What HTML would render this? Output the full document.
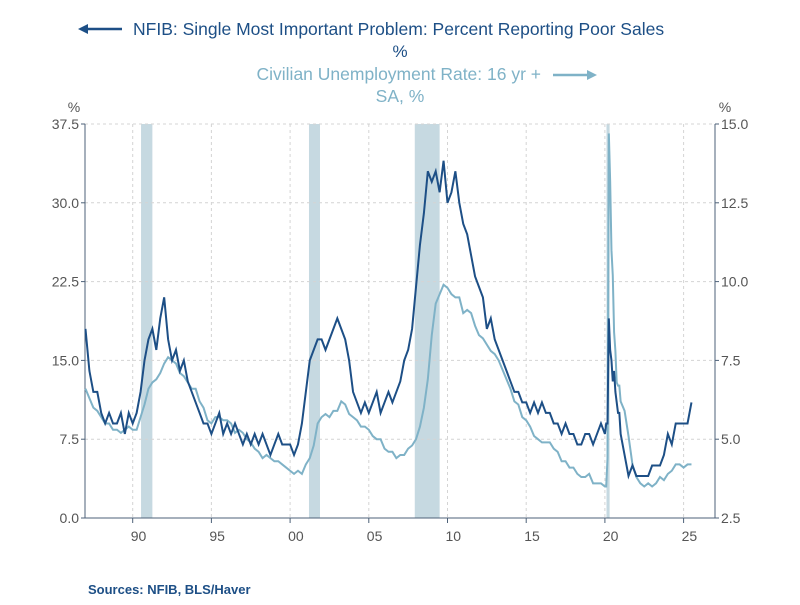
<!DOCTYPE html>
<html><head><meta charset="utf-8"><style>
body{margin:0;background:#fff;font-family:"Liberation Sans",sans-serif}
svg text{font-family:"Liberation Sans",sans-serif}
</style></head><body>
<svg id="chart" width="800" height="600" xmlns="http://www.w3.org/2000/svg">
<g id="legend">
 <line x1="84" y1="29" x2="122" y2="29" stroke="#1d4f86" stroke-width="2.5"/>
 <polygon points="78,29 88,24 88,34" fill="#1d4f86"/>
 <text x="133" y="35" font-size="17.5" fill="#1d4f86">NFIB: Single Most Important Problem: Percent Reporting Poor Sales</text>
 <text x="400" y="57" font-size="17" fill="#1d4f86" text-anchor="middle">%</text>
 <text x="541" y="80" font-size="17.5" fill="#7fb2c7" text-anchor="end">Civilian Unemployment Rate: 16 yr +</text>
 <line x1="553" y1="75" x2="590" y2="75" stroke="#7fb2c7" stroke-width="2.5"/>
 <polygon points="597,75 587,70 587,80" fill="#7fb2c7"/>
 <text x="400" y="102" font-size="17.5" fill="#7fb2c7" text-anchor="middle">SA, %</text>
</g>
<text x="74" y="112" font-size="14" fill="#555" text-anchor="middle">%</text>
<text x="725" y="112" font-size="14" fill="#555" text-anchor="middle">%</text>
<g id="rec"></g><g id="grid"></g><g id="axes"></g><g id="lines"></g>
<text x="88" y="594" font-size="13" font-weight="bold" fill="#1d4f86">Sources:  NFIB, BLS/Haver</text>
</svg>
<script>
const recessionStarts=[1990.53,2001.2,2007.92,2020.1];
const recessionEnds=[1991.25,2001.9,2009.5,2020.3];
const leftTicks=[0,7.5,15,22.5,30,37.5];
const leftTickLabels=["0.0","7.5","15.0","22.5","30.0","37.5"];
const rightTicks=[2.5,5,7.5,10,12.5,15];
const rightTickLabels=["2.5","5.0","7.5","10.0","12.5","15.0"];
const yearTicks=[1990,1995,2000,2005,2010,2015,2020,2025];
const yearTickLabels=["90","95","00","05","10","15","20","25"];
// quarterly 1987-2019, monthly 2020, quarterly 2021+
const nfibValues=[18,14,12,12, 10,9,10,9, 9,10,8,10, 9,10,12,15, 17,18,16,19, 21,17,15,16, 14,15,13,12, 11,10,9,9, 8,9,10,8, 9,8,9,8, 7,8,7,8, 7,8,7,6, 7,8,7,7, 7,6,7,9, 12,15,16,17, 17,16,17,18, 19,18,17,15, 12,11,10,11, 10,11,12,10, 11,12,11,12, 13,15,16,18, 22,26,29,33, 32,33,31,34, 30,31,33,30, 28,27,25,23, 22,21,18,19, 17,16,15,14, 13,12,12,11, 11,10,11,10, 11,10,10,9, 9,8,9,8, 8,7,7,8, 8,7,8,9,
 8,9,9,19,16,15,13,14,12,11,10,10,
 8,6,4,5, 4,4,4,4, 5,5,5,6, 8,7,9,9, 9,9,11];
const unrateValues=[6.6,6.3,6.0,5.9, 5.7,5.5,5.5,5.3, 5.3,5.2,5.3,5.4, 5.3,5.3,5.7,6.1, 6.6,6.8,6.9,7.1, 7.4,7.6,7.5,7.4, 7.1,7.0,6.8,6.6, 6.6,6.2,6.0,5.6, 5.5,5.7,5.7,5.6, 5.6,5.5,5.2,5.3, 5.2,5.0,4.9,4.7, 4.6,4.4,4.5,4.4, 4.3,4.3,4.2,4.1, 4.0,3.9,4.0,3.9, 4.2,4.4,4.8,5.5, 5.7,5.8,5.7,5.9, 5.9,6.2,6.1,5.8, 5.7,5.6,5.4,5.4, 5.3,5.1,5.0,5.0, 4.7,4.6,4.6,4.4, 4.5,4.5,4.7,4.8, 5.0,5.4,6.0,6.9, 8.3,9.3,9.6,9.9, 9.8,9.6,9.5,9.5, 9.0,9.1,9.0,8.6, 8.3,8.2,8.0,7.8, 7.7,7.5,7.2,6.9, 6.6,6.2,6.1,5.7, 5.6,5.4,5.1,5.0, 4.9,4.9,4.9,4.7, 4.6,4.3,4.3,4.1, 4.1,3.9,3.8,3.8, 3.9,3.6,3.6,3.6,
 3.5,3.5,4.4,14.7,13.2,11.0,10.2,8.4,7.8,6.8,6.7,6.7,
 6.2,5.9,5.1,4.2, 3.8,3.6,3.5,3.6, 3.5,3.6,3.8,3.7, 3.9,4.0,4.2,4.2, 4.1,4.2,4.2];
function makeDates(n){const d=[];for(let i=0;i<n;i++){if(i<132)d.push(1987+i*0.25);else if(i<144)d.push(2020+(i-132)/12);else d.push(2021+(i-144)*0.25);}return d;}
const nfibDates=makeDates(nfibValues.length);
const unrateDates=makeDates(unrateValues.length);
const L=85,R=715,T=124,B=518;
const xs=d=>132.7+(d-1990)*15.74;
const yl=v=>B-v/37.5*(B-T);
const yr=v=>B-(v-2.5)/12.5*(B-T);
const NS="http://www.w3.org/2000/svg";
function mk(p,t,a){const e=document.createElementNS(NS,t);for(const k in a)e.setAttribute(k,a[k]);document.getElementById(p).appendChild(e);return e;}
recessionStarts.forEach((s,i)=>{const e=mk('rec','rect',{x:xs(s),y:T,width:xs(recessionEnds[i])-xs(s),height:B-T,fill:'#c6d9e1'});

});
leftTicks.forEach((v,i)=>{const g=mk('grid','line',{x1:L,x2:R,y1:yl(v),y2:yl(v),stroke:'#d4d4d4','stroke-dasharray':'3,3'});


const t=mk('axes','text',{x:L-6,y:yl(v)+5,'font-size':14,fill:'#555','text-anchor':'end'});t.textContent=leftTickLabels[i];


mk('axes','line',{x1:L-4,x2:L,y1:yl(v),y2:yl(v),stroke:'#4d6178'});});
rightTicks.forEach((v,i)=>{const t=mk('axes','text',{x:R+6,y:yr(v)+5,'font-size':14,fill:'#555'});t.textContent=rightTickLabels[i];


mk('axes','line',{x1:R,x2:R+4,y1:yr(v),y2:yr(v),stroke:'#4d6178'});});
yearTicks.forEach((v,i)=>{const g=mk('grid','line',{x1:xs(v),x2:xs(v),y1:T,y2:B,stroke:'#d4d4d4','stroke-dasharray':'3,3'});


const t=mk('axes','text',{x:xs(v)-2,y:B+23,'font-size':14,fill:'#555'});t.textContent=yearTickLabels[i];


mk('axes','line',{x1:xs(v),x2:xs(v),y1:B,y2:B+5,stroke:'#4d6178'});});
mk('axes','line',{x1:L,x2:L,y1:T,y2:B,stroke:'#4d6178'});
mk('axes','line',{x1:R,x2:R,y1:T,y2:B,stroke:'#4d6178'});
mk('axes','line',{x1:L,x2:R,y1:B,y2:B,stroke:'#4d6178'});
const up=mk('lines','polyline',{points:unrateDates.map((d,i)=>xs(d)+','+yr(unrateValues[i])).join(' '),fill:'none',stroke:'#7fb2c7','stroke-width':2});


const np=mk('lines','polyline',{points:nfibDates.map((d,i)=>xs(d)+','+yl(nfibValues[i])).join(' '),fill:'none',stroke:'#1d4f86','stroke-width':2});


</script>
</body></html>
